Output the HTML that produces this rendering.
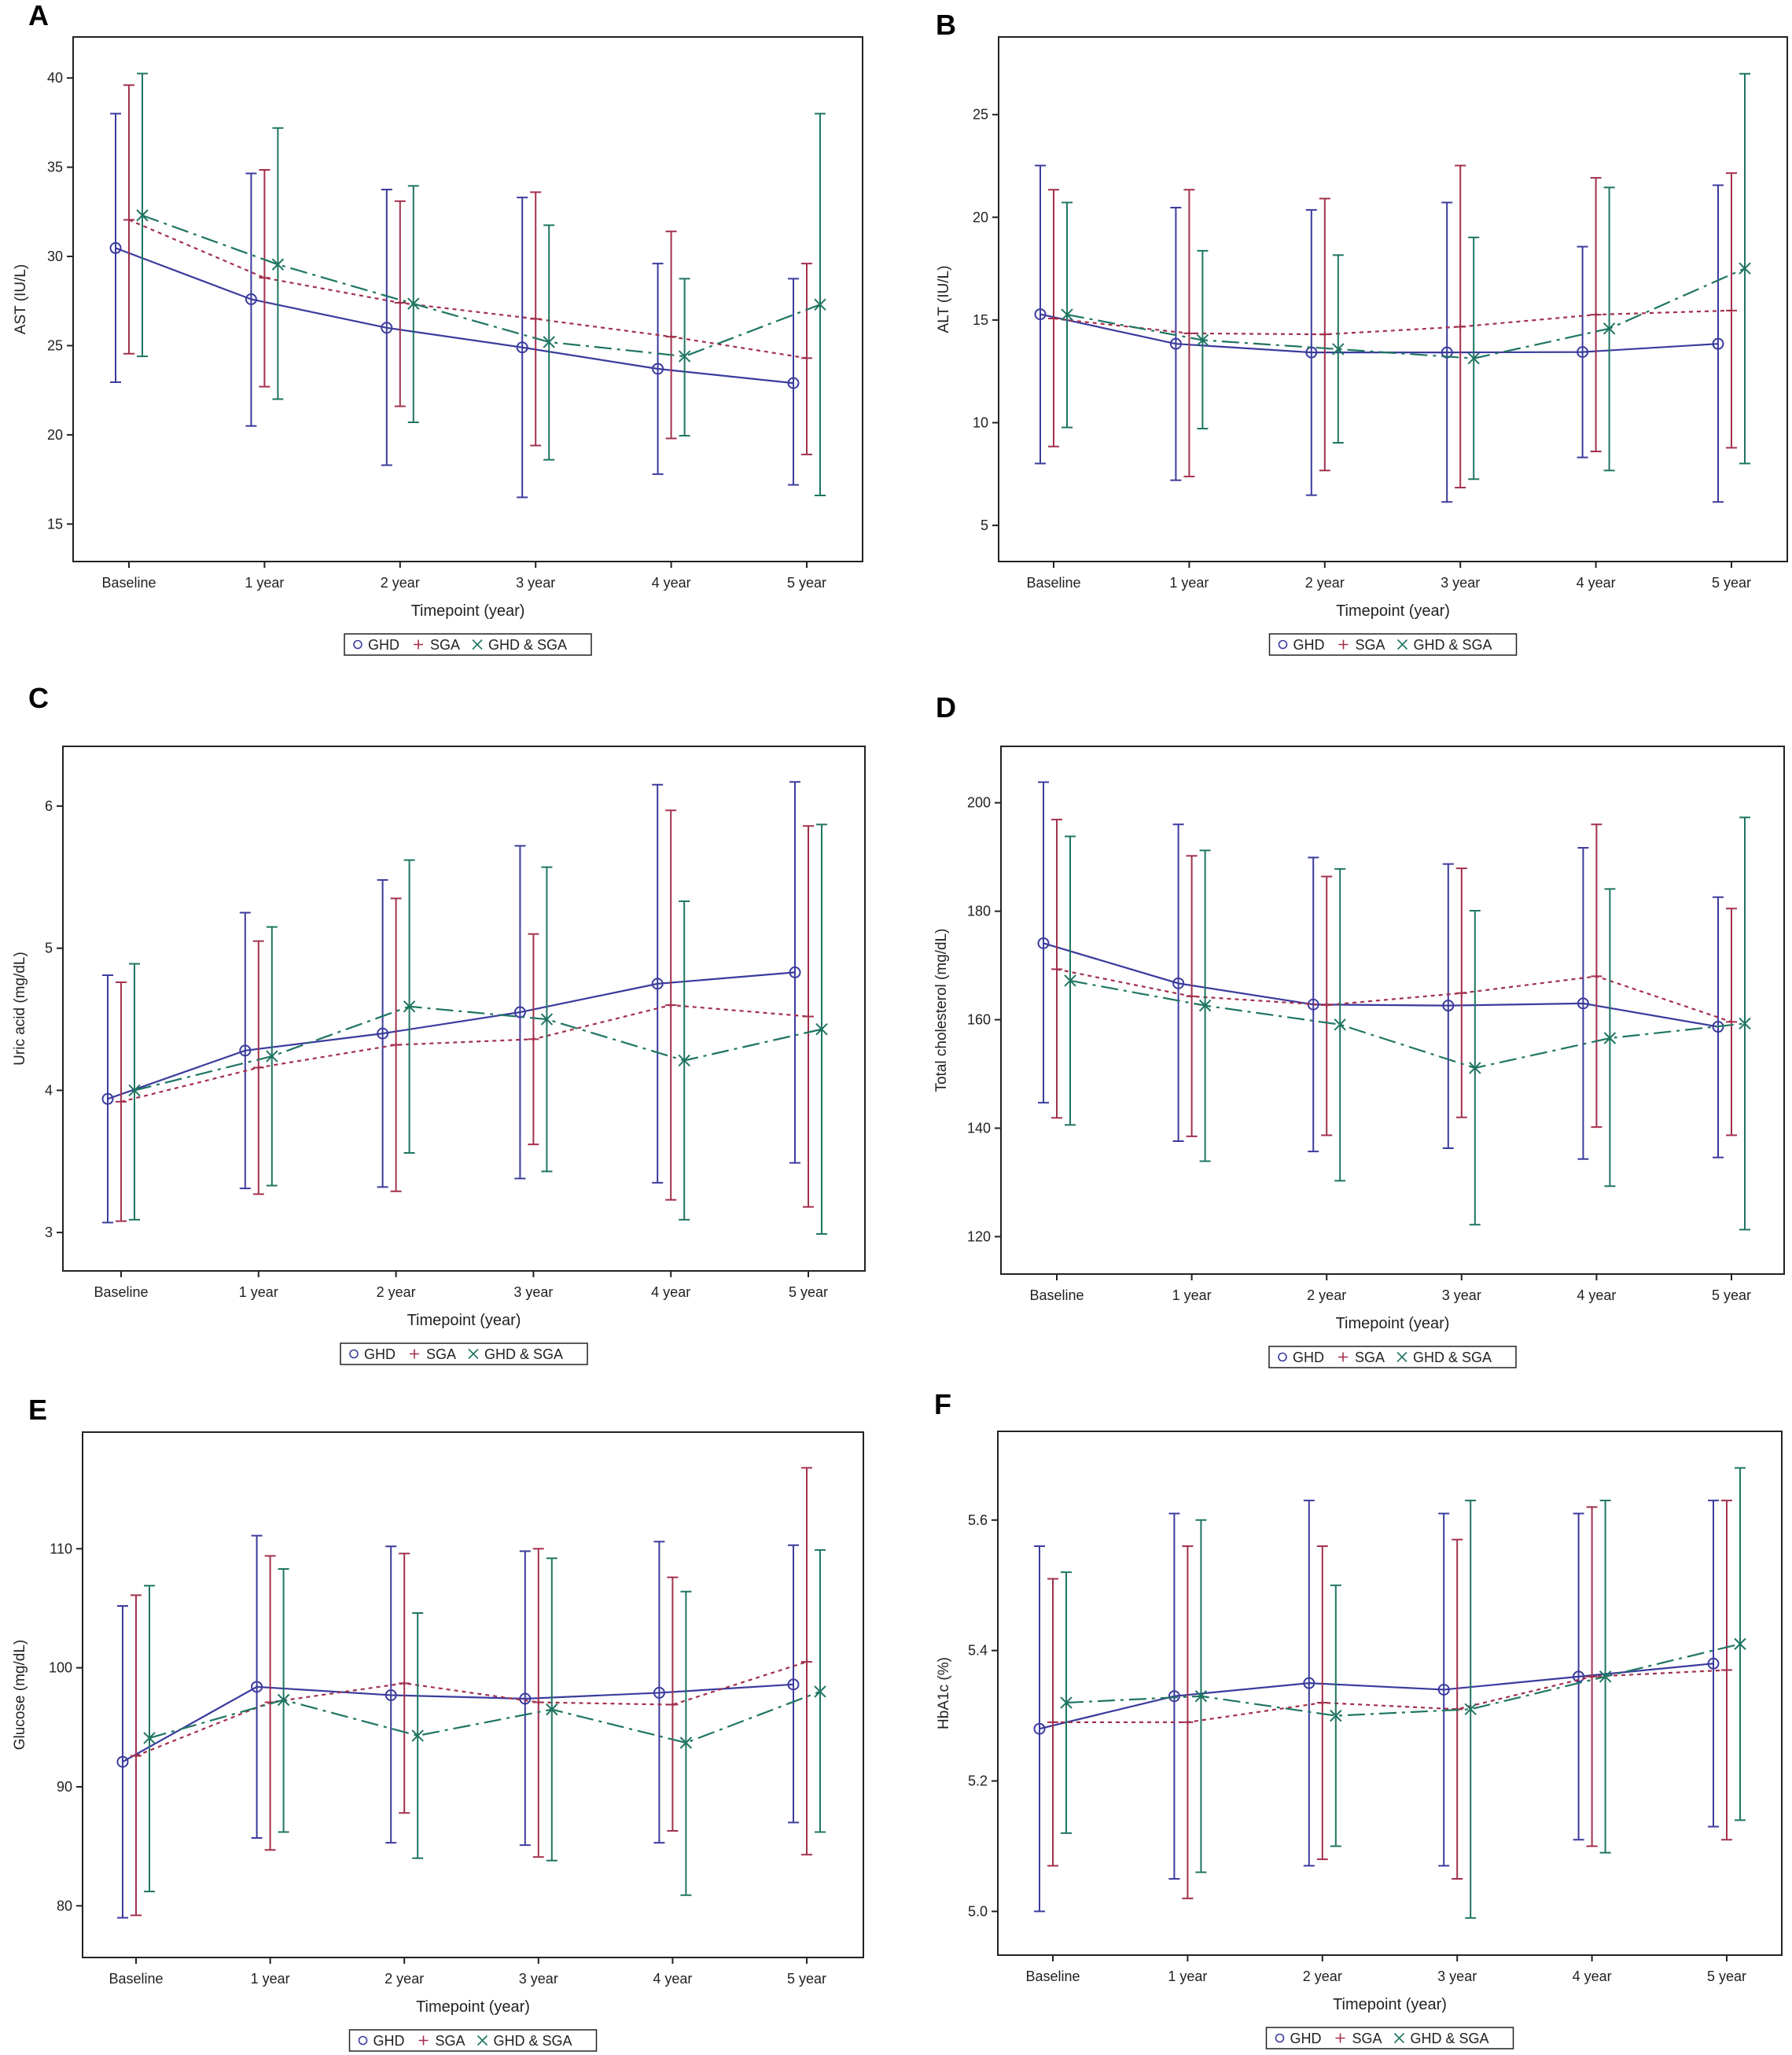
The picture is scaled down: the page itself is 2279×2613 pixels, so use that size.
<!DOCTYPE html>
<html><head><meta charset="utf-8"><style>
body{margin:0;background:#fff;}
svg{display:block;font-family:"Liberation Sans",sans-serif;}
</style></head><body>
<svg id="fig" width="2279" height="2613" viewBox="0 0 2279 2613" xmlns="http://www.w3.org/2000/svg"></svg>
<script>
const categories = ["Baseline","1 year","2 year","3 year","4 year","5 year"];
// Panel A: AST
const aGhdMean=[30.47,27.6,26.0,24.9,23.7,22.9];
const aGhdLo=[22.95,20.5,18.3,16.5,17.8,17.2];
const aGhdHi=[38.0,34.65,33.75,33.3,29.6,28.75];
const aSgaMean=[32.05,28.8,27.4,26.5,25.5,24.3];
const aSgaLo=[24.55,22.7,21.6,19.4,19.8,18.9];
const aSgaHi=[39.6,34.85,33.1,33.6,31.4,29.6];
const aBothMean=[32.3,29.55,27.35,25.2,24.4,27.3];
const aBothLo=[24.4,22.0,20.7,18.6,19.95,16.6];
const aBothHi=[40.25,37.2,33.95,31.75,28.75,38.0];
const aTicks=[15,20,25,30,35,40];
// Panel B: ALT
const bGhdMean=[15.28,13.84,13.42,13.42,13.44,13.84];
const bGhdLo=[8.01,7.2,6.47,6.14,8.31,6.14];
const bGhdHi=[22.52,20.47,20.36,20.72,18.57,21.56];
const bSgaMean=[15.07,14.35,14.3,14.67,15.26,15.46];
const bSgaLo=[8.84,7.38,7.67,6.84,8.6,8.78];
const bSgaHi=[21.34,21.34,20.91,22.52,21.92,22.15];
const bBothMean=[15.26,14.02,13.58,13.13,14.58,17.51];
const bBothLo=[9.77,9.71,9.02,7.25,7.67,8.01];
const bBothHi=[20.72,18.37,18.16,19.02,21.45,26.99];
const bTicks=[5,10,15,20,25];
// Panel C: Uric acid
const cGhdMean=[3.94,4.28,4.40,4.55,4.75,4.83];
const cGhdLo=[3.07,3.31,3.32,3.38,3.35,3.49];
const cGhdHi=[4.81,5.25,5.48,5.72,6.15,6.17];
const cSgaMean=[3.92,4.16,4.32,4.36,4.60,4.52];
const cSgaLo=[3.08,3.27,3.29,3.62,3.23,3.18];
const cSgaHi=[4.76,5.05,5.35,5.10,5.97,5.86];
const cBothMean=[4.0,4.24,4.59,4.50,4.21,4.43];
const cBothLo=[3.09,3.33,3.56,3.43,3.09,2.99];
const cBothHi=[4.89,5.15,5.62,5.57,5.33,5.87];
const cTicks=[3,4,5,6];
// Panel D: Total cholesterol
const dGhdMean=[174.1,166.7,162.8,162.6,163.0,158.7];
const dGhdLo=[144.7,137.6,135.7,136.3,134.3,134.6];
const dGhdHi=[203.8,196.0,189.9,188.7,191.7,182.6];
const dSgaMean=[169.3,164.3,162.7,164.9,168.0,159.6];
const dSgaLo=[141.9,138.5,138.7,142.0,140.2,138.7];
const dSgaHi=[196.9,190.2,186.4,187.9,196.0,180.5];
const dBothMean=[167.2,162.6,159.1,151.1,156.6,159.3];
const dBothLo=[140.6,133.9,130.3,122.2,129.3,121.3];
const dBothHi=[193.8,191.2,187.8,180.1,184.1,197.3];
const dTicks=[120,140,160,180,200];
// Panel E: Glucose
const eGhdMean=[92.1,98.4,97.7,97.4,97.9,98.6];
const eGhdLo=[79.0,85.7,85.3,85.1,85.3,87.0];
const eGhdHi=[105.2,111.1,110.2,109.8,110.6,110.3];
const eSgaMean=[92.6,97.1,98.7,97.1,96.9,100.5];
const eSgaLo=[79.2,84.7,87.8,84.1,86.3,84.3];
const eSgaHi=[106.1,109.4,109.6,110.0,107.6,116.8];
const eBothMean=[94.1,97.3,94.3,96.5,93.7,98.0];
const eBothLo=[81.2,86.2,84.0,83.8,80.9,86.2];
const eBothHi=[106.9,108.3,104.6,109.2,106.4,109.9];
const eTicks=[80,90,100,110];
// Panel F: HbA1c
const fGhdMean=[5.28,5.33,5.35,5.34,5.36,5.38];
const fGhdLo=[5.0,5.05,5.07,5.07,5.11,5.13];
const fGhdHi=[5.56,5.61,5.63,5.61,5.61,5.63];
const fSgaMean=[5.29,5.29,5.32,5.31,5.36,5.37];
const fSgaLo=[5.07,5.02,5.08,5.05,5.10,5.11];
const fSgaHi=[5.51,5.56,5.56,5.57,5.62,5.63];
const fBothMean=[5.32,5.33,5.30,5.31,5.36,5.41];
const fBothLo=[5.12,5.06,5.10,4.99,5.09,5.14];
const fBothHi=[5.52,5.60,5.50,5.63,5.63,5.68];
const fTicks=["5.0","5.2","5.4","5.6"];

const NS="http://www.w3.org/2000/svg";
const svg=document.getElementById('fig');
const COL={ghd:"#3b3b9e",sga:"#a3304c",both:"#1f7562"};
function mk(tag,attrs,parent){const e=document.createElementNS(NS,tag);for(const k in attrs)e.setAttribute(k,attrs[k]);(parent||svg).appendChild(e);return e;}

const panels=[
 {id:"a",letter:"A",lx:36,ly:32,tx:26,x0:93,x1:1097,y0:47,y1:714,c0:164,step:172.4,ymin:12.9,ymax:42.3,ticks:aTicks,title:"AST (IU/L)",
  g:[aGhdMean,aGhdLo,aGhdHi],s:[aSgaMean,aSgaLo,aSgaHi],b:[aBothMean,aBothLo,aBothHi]},
 {id:"b",letter:"B",lx:1190,ly:44,tx:1200,x0:1270,x1:2273,y0:47,y1:714,c0:1340,step:172.4,ymin:3.24,ymax:28.78,ticks:bTicks,title:"ALT (IU/L)",
  g:[bGhdMean,bGhdLo,bGhdHi],s:[bSgaMean,bSgaLo,bSgaHi],b:[bBothMean,bBothLo,bBothHi]},
 {id:"c",letter:"C",lx:36,ly:900,tx:25,x0:80,x1:1100,y0:949,y1:1616,c0:154,step:174.8,ymin:2.73,ymax:6.42,ticks:cTicks,title:"Uric acid (mg/dL)",
  g:[cGhdMean,cGhdLo,cGhdHi],s:[cSgaMean,cSgaLo,cSgaHi],b:[cBothMean,cBothLo,cBothHi]},
 {id:"d",letter:"D",lx:1190,ly:912,tx:1197,x0:1273,x1:2269,y0:949,y1:1620,c0:1344,step:171.6,ymin:113.1,ymax:210.4,ticks:dTicks,title:"Total cholesterol (mg/dL)",
  g:[dGhdMean,dGhdLo,dGhdHi],s:[dSgaMean,dSgaLo,dSgaHi],b:[dBothMean,dBothLo,dBothHi]},
 {id:"e",letter:"E",lx:36,ly:1805,tx:25,x0:105,x1:1098,y0:1821,y1:2489,c0:173,step:170.6,ymin:75.66,ymax:119.8,ticks:eTicks,title:"Glucose (mg/dL)",
  g:[eGhdMean,eGhdLo,eGhdHi],s:[eSgaMean,eSgaLo,eSgaHi],b:[eBothMean,eBothLo,eBothHi]},
 {id:"f",letter:"F",lx:1188,ly:1798,tx:1200,x0:1269,x1:2266,y0:1820,y1:2486,c0:1339,step:171.4,ymin:4.933,ymax:5.736,ticks:fTicks,title:"HbA1c (%)",
  g:[fGhdMean,fGhdLo,fGhdHi],s:[fSgaMean,fSgaLo,fSgaHi],b:[fBothMean,fBothLo,fBothHi]}
];

panels.forEach(p=>{
 const grp=mk('g',{});
 
 
 const yS=v=>p.y1-(parseFloat(v)-p.ymin)/(p.ymax-p.ymin)*(p.y1-p.y0);
 const xS=(i,off)=>p.c0+i*p.step+off;
 const L=mk('text',{x:p.lx,y:p.ly,'font-size':36,'font-weight':'bold',fill:'#000'},grp);L.textContent=p.letter;
 
 
 const fr=mk('rect',{x:p.x0,y:p.y0,width:p.x1-p.x0,height:p.y1-p.y0,fill:'none',stroke:'#222','stroke-width':2},grp);
 
 
 p.ticks.forEach(t=>{
  const y=yS(t);
  mk('line',{x1:p.x0-8,x2:p.x0,y1:y,y2:y,stroke:'#222','stroke-width':2},grp);
  const tx=mk('text',{x:p.x0-13,y:y+6,'font-size':18,'text-anchor':'end',fill:'#222'},grp);tx.textContent=t;
  
  
 });
 categories.forEach((c,i)=>{
  const x=xS(i,0);
  mk('line',{x1:x,x2:x,y1:p.y1,y2:p.y1+8,stroke:'#222','stroke-width':2},grp);
  const tx=mk('text',{x:x,y:p.y1+33,'font-size':18,'text-anchor':'middle',fill:'#222'},grp);tx.textContent=c;
  
  
 });
 const xt=mk('text',{x:(p.x0+p.x1)/2,y:p.y1+69,'font-size':20,'text-anchor':'middle',fill:'#222'},grp);xt.textContent="Timepoint (year)";
 
 
 const ycx=p.tx+6,ycy=(p.y0+p.y1)/2;
 const yt=mk('text',{x:ycx,y:ycy,'font-size':19,'text-anchor':'middle',fill:'#222',transform:`rotate(-90 ${ycx} ${ycy})`},grp);yt.textContent=p.title;
 
 
 const series=[{k:'ghd',d:p.g,off:-17,dash:null},{k:'sga',d:p.s,off:0,dash:'5,5'},{k:'both',d:p.b,off:17,dash:'22,7,4,7'}];
 series.forEach(s=>{
  const col=COL[s.k];
  const [m,lo,hi]=s.d;
  m.forEach((v,i)=>{
   const x=xS(i,s.off);
   const eb=mk('path',{d:`M${x},${yS(lo[i])}V${yS(hi[i])}M${x-7},${yS(lo[i])}H${x+7}M${x-7},${yS(hi[i])}H${x+7}`,stroke:col,'stroke-width':2,fill:'none'},grp);
   
   
  });
  const pts=m.map((v,i)=>xS(i,s.off)+','+yS(v)).join(' ');
  const pl=mk('polyline',{points:pts,fill:'none',stroke:col,'stroke-width':2.2},grp);
  if(s.dash)pl.setAttribute('stroke-dasharray',s.dash);
  
  
  m.forEach((v,i)=>{
   const x=xS(i,s.off),y=yS(v);let mkr;
   if(s.k==='ghd')mkr=mk('circle',{cx:x,cy:y,r:6.5,fill:'none',stroke:col,'stroke-width':2},grp);
   else if(s.k==='sga')mkr=mk('path',{d:`M${x-7},${y}H${x+7}M${x},${y-3}V${y+3}`,stroke:col,'stroke-width':2},grp);
   else mkr=mk('path',{d:`M${x-7},${y-7}L${x+7},${y+7}M${x-7},${y+7}L${x+7},${y-7}`,stroke:col,'stroke-width':2},grp);
   
   
  });
 });
 const cx=(p.x0+p.x1)/2,ly=p.y1+92;
 const lg=mk('g',{},grp);
 
 
 mk('rect',{x:cx-157,y:ly,width:314,height:27,fill:'#fff',stroke:'#222','stroke-width':1.5},lg);
 const ty=ly+20,my=ly+13.5;
 mk('circle',{cx:cx-140,cy:my,r:5,fill:'none',stroke:COL.ghd,'stroke-width':1.6},lg);
 let t=mk('text',{x:cx-127,y:ty,'font-size':18,fill:'#222'},lg);t.textContent="GHD";
 
 
 mk('path',{d:`M${cx-69},${my}H${cx-57}M${cx-63},${my-6}V${my+6}`,stroke:COL.sga,'stroke-width':1.6},lg);
 t=mk('text',{x:cx-48,y:ty,'font-size':18,fill:'#222'},lg);t.textContent="SGA";
 
 
 mk('path',{d:`M${cx+6},${my-6}L${cx+18},${my+6}M${cx+6},${my+6}L${cx+18},${my-6}`,stroke:COL.both,'stroke-width':1.6},lg);
 t=mk('text',{x:cx+26,y:ty,'font-size':18,fill:'#222'},lg);t.textContent="GHD & SGA";
 
 
});
</script>
</body></html>
